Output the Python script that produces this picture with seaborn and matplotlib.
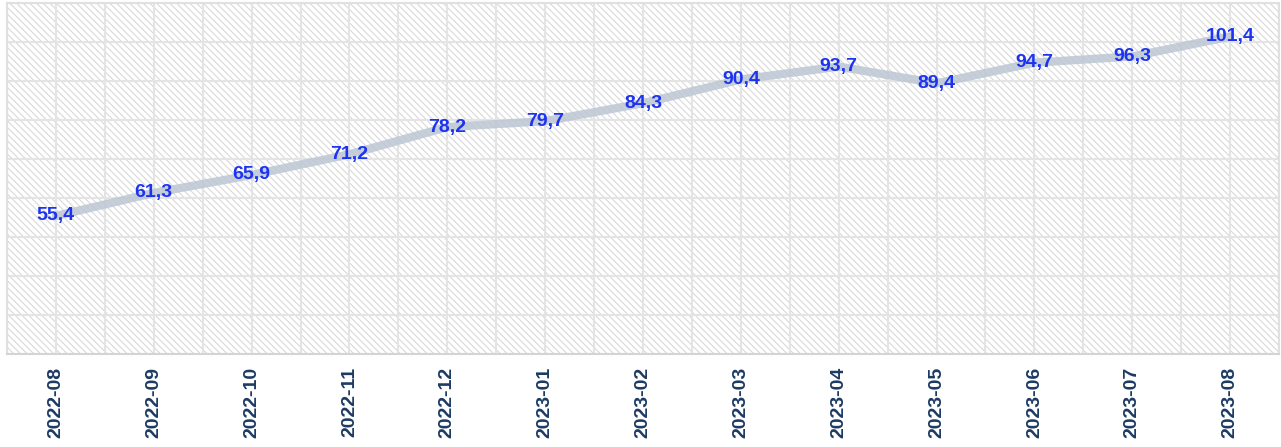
import numpy as np
import pandas as pd
import matplotlib
matplotlib.use("Agg")
import matplotlib.pyplot as plt
from matplotlib.patches import Rectangle
import seaborn as sns

# data
months = ["2022-08", "2022-09", "2022-10", "2022-11", "2022-12", "2023-01", "2023-02",
          "2023-03", "2023-04", "2023-05", "2023-06", "2023-07", "2023-08"]
values = [55.4, 61.3, 65.9, 71.2, 78.2, 79.7, 84.3, 90.4, 93.7, 89.4, 94.7, 96.3, 101.4]

df = pd.DataFrame({"month": months, "value": values})

sns.set_style("white")
plt.rcParams["font.family"] = ["Liberation Sans", "DejaVu Sans"]
plt.rcParams["hatch.linewidth"] = 0.8

fig = plt.figure(figsize=(12.81, 4.47), dpi=100)
ax = fig.add_axes([7 / 1281, 1 - 354 / 447, 1272 / 1281, 351 / 447])

# hatched background
ax.add_patch(Rectangle((0, 0), 1, 1, transform=ax.transAxes, facecolor="white",
                       edgecolor="#d9d9d9", hatch="\\" * 5, lw=0, zorder=0))

sns.lineplot(data=df, x="month", y="value", sort=False, ax=ax,
             color="#bcc6d3", linewidth=6, alpha=0.85, zorder=3)

for i, v in enumerate(values):
    ax.text(i, v, f"{v:.1f}".replace(".", ","), ha="center", va="center",
            fontsize=14, fontweight="bold", color="#1c33f2", zorder=5)

ax.set_xlim(-0.5, len(months) - 0.5)
ax.set_ylim(20, 110)
ax.set_yticks(np.arange(20, 111, 10))
ax.set_yticklabels([])
ax.set_xticks(np.arange(-0.5, len(months), 1), minor=True)
ax.grid(True, which="both", color="#e4e4e4", linewidth=1.5, zorder=1)
ax.set_axisbelow(True)
ax.set_xlabel("")
ax.set_ylabel("")
ax.tick_params(axis="both", which="both", length=0)
ax.tick_params(axis="x", pad=9)
plt.setp(ax.get_xticklabels(), rotation=90, fontsize=14, fontweight="bold", color="#1c3a63")

for s in ax.spines.values():
    s.set_color("#e0e0e0")
    s.set_linewidth(1.5)
ax.spines["bottom"].set_color("#d4d4d4")

fig.savefig("out.png", dpi=100)
